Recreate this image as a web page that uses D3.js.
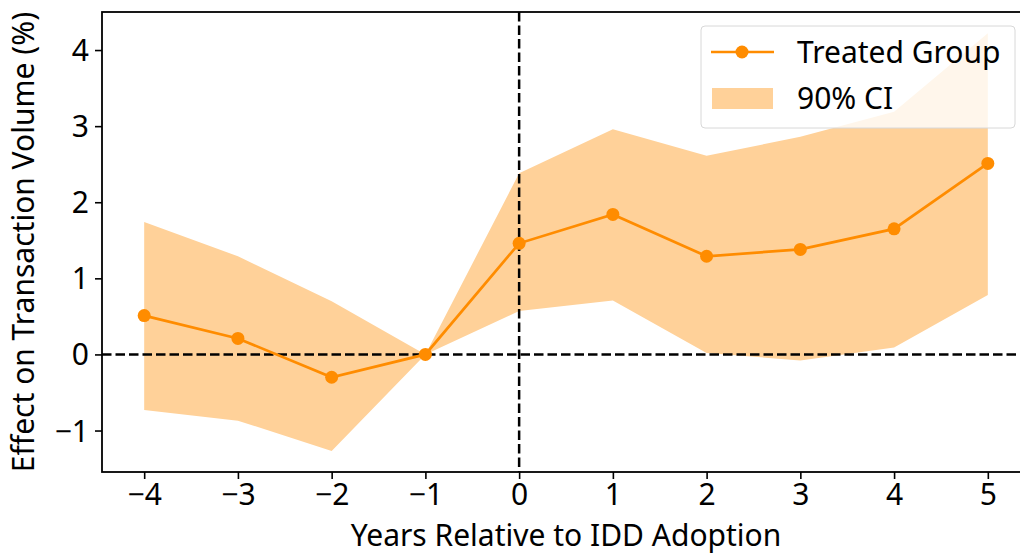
<!DOCTYPE html>
<html><head><meta charset="utf-8">
<script src="https://cdn.jsdelivr.net/npm/d3@7"></script>
<style>body{margin:0;background:#fff}svg{display:block}text{font-family:"Noto Sans","Open Sans",sans-serif;fill:#000}</style>
</head><body><svg id="c" width="1020" height="558"></svg>
<script>
const years = [-4,-3,-2,-1,0,1,2,3,4,5];
const effect = [0.51,0.21,-0.30,0.0,1.46,1.84,1.29,1.38,1.65,2.51];
const ciUpper = [1.74,1.29,0.70,0.0,2.38,2.96,2.61,2.86,3.19,4.22];
const ciLower = [-0.73,-0.87,-1.27,0.0,0.57,0.71,0.02,-0.08,0.09,0.78];
const xTicks = [-4,-3,-2,-1,0,1,2,3,4,5];
const yTicks = [-1,0,1,2,3,4];
const seriesLabel = "Treated Group";
const ciLabel = "90% CI";
const xLabel = "Years Relative to IDD Adoption";
const yLabel = "Effect on Transaction Volume (%)";

const svg = d3.select("#c");
const L=102, T=12, R=1030, B=472;
const x = d3.scaleLinear().domain([-4.45,5.45]).range([L,R]);
const y = d3.scaleLinear().domain([-1.545,4.5]).range([B,T]);
const orange = "#ff8c00", fill = "#ffd199";
const fs = 30;

const g = svg.append("g");
const data = years.map((d,i)=>({x:d,y:effect[i],lo:ciLower[i],hi:ciUpper[i]}));
g.append("path").datum(data)
 .attr("d", d3.area().x(d=>x(d.x)).y0(d=>y(d.lo)).y1(d=>y(d.hi)))
 .attr("fill", fill);
g.append("line").attr("x1",L).attr("x2",R).attr("y1",y(0)).attr("y2",y(0))
 .attr("stroke","#000").attr("stroke-width",2.5).attr("stroke-dasharray","9.5,4");
g.append("line").attr("x1",x(0)).attr("x2",x(0)).attr("y1",T).attr("y2",B)
 .attr("stroke","#000").attr("stroke-width",2.5).attr("stroke-dasharray","9.5,4");
g.append("path").datum(data)
 .attr("d", d3.line().x(d=>x(d.x)).y(d=>y(d.y)))
 .attr("fill","none").attr("stroke",orange).attr("stroke-width",2.7);
g.selectAll("circle.pt").data(data).enter().append("circle")
 .attr("cx",d=>x(d.x)).attr("cy",d=>y(d.y)).attr("r",6.5).attr("fill",orange);

const xa = svg.append("g").attr("transform",`translate(0,${B})`)
 .call(d3.axisBottom(x).tickValues(xTicks).tickSize(7).tickPadding(5).tickFormat(d=>d<0?"\u2212"+Math.abs(d):d));
const ya = svg.append("g").attr("transform",`translate(${L},0)`)
 .call(d3.axisLeft(y).tickValues(yTicks).tickSize(7).tickPadding(6).tickFormat(d=>d<0?"\u2212"+Math.abs(d):d));
[xa,ya].forEach(a=>{
 a.attr("font-size",null).attr("font-family",null);
 a.select(".domain").remove();
 a.selectAll("line").attr("stroke","#000").attr("stroke-width",1.6);
 a.selectAll("text").style("font-size",fs+"px");
});
ya.selectAll("text").attr("dy","0.35em");
svg.append("rect").attr("x",L).attr("y",T).attr("width",R-L).attr("height",B-T)
 .attr("fill","none").attr("stroke","#000").attr("stroke-width",1.8);

svg.append("text").attr("x",566).attr("y",546).attr("text-anchor","middle")
 .style("font-size",fs+"px").text(xLabel);
svg.append("text").attr("transform",`translate(34,${(T+B)/2}) rotate(-90)`)
 .attr("text-anchor","middle").style("font-size",fs+"px").text(yLabel);

const lg = svg.append("g");
lg.append("rect").attr("x",701).attr("y",26).attr("width",314).attr("height",102).attr("rx",4)
 .attr("fill","#fff").attr("fill-opacity",0.8).attr("stroke","#d8d8d8").attr("stroke-width",1);
lg.append("line").attr("x1",711).attr("x2",774).attr("y1",52).attr("y2",52).attr("stroke",orange).attr("stroke-width",2.7);
lg.append("circle").attr("cx",742).attr("cy",52).attr("r",6.5).attr("fill",orange);
lg.append("rect").attr("x",712).attr("y",88).attr("width",61).attr("height",21).attr("fill",fill);
lg.append("text").attr("x",797).attr("y",63).style("font-size",fs+"px").text(seriesLabel);
lg.append("text").attr("x",797).attr("y",109).style("font-size",fs+"px").text(ciLabel);
</script></body></html>
